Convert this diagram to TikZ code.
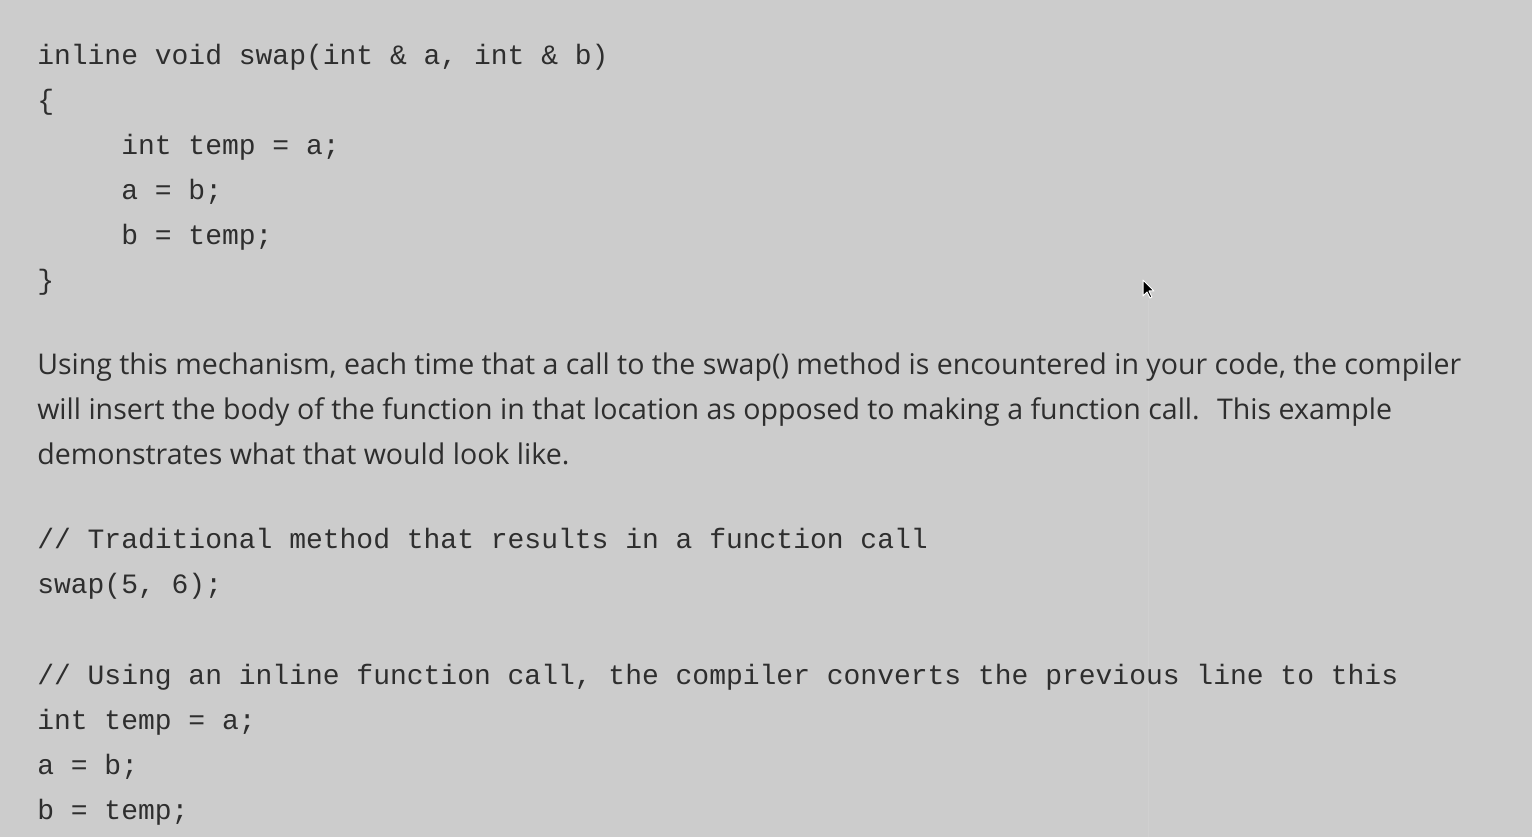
\documentclass[tikz,border=0pt]{standalone}
\usepackage{fontspec}
\setmainfont{Open Sans}
\setmonofont{Liberation Mono}
\definecolor{pagegray}{HTML}{CCCCCC}
\definecolor{inkgray}{HTML}{2E2E2E}
\definecolor{seamgray}{HTML}{D0D0D0}
\def\codefont{\ttfamily\fontsize{21}{21}\selectfont}
\def\prosefont{\fontsize{21.4}{21.4}\selectfont}
\tikzset{
  codeline/.style={anchor=base west,inner sep=0pt,font=\codefont,text=inkgray},
  proseline/.style={anchor=base west,inner sep=0pt,font=\prosefont,text=inkgray},
}

\begin{document}
\begin{tikzpicture}[x=0.75pt,y=-0.75pt]
  \fill[pagegray] (0,0) rectangle (1532,837);
  \useasboundingbox (0,0) rectangle (1532,837);
  \draw[seamgray,line width=0.75pt] (1148,300) -- (1148,837);
  % function definition
  \node[codeline] (defhead)  at (37,65)  {inline void swap(int \& a, int \& b)};
  \node[codeline] (defopen)  at (37,110) {\{};
  \node[codeline] (deftemp)  at (121,155) {int temp = a;};
  \node[codeline] (defab)    at (121,200) {a = b;};
  \node[codeline] (defba)    at (121,245) {b = temp;};
  \node[codeline] (defclose) at (37,290) {\}};
  % explanation
  \node[proseline] (prose1) at (37,375) {Using this mechanism, each time that a call to the swap() method is encountered in your code, the compiler};
  \node[proseline] (prose2) at (37,420) {will insert the body of the function in that location as opposed to making a function call.~ This example};
  \node[proseline] (prose3) at (37,465) {demonstrates what that would look like.};
  % call versus inlined body
  \node[codeline] (callnote) at (37,549) {// Traditional method that results in a function call};
  \node[codeline] (callline) at (37,594) {swap(5, 6);};
  \node[codeline] (inlnote)  at (37,684) {// Using an inline function call, the compiler converts the previous line to this};
  \node[codeline] (inltemp)  at (37,729) {int temp = a;};
  \node[codeline] (inlab)    at (37,774) {a = b;};
  \node[codeline] (inlba)    at (37,819) {b = temp;};
  % mouse pointer
  \filldraw[fill=black,draw=white,line width=0.75pt,line join=round]
    (1143,280) -- (1143,296) -- (1147,292) -- (1150,298) -- (1152,297)
    -- (1149,291) -- (1154,291) -- cycle;
\end{tikzpicture}
\end{document}
